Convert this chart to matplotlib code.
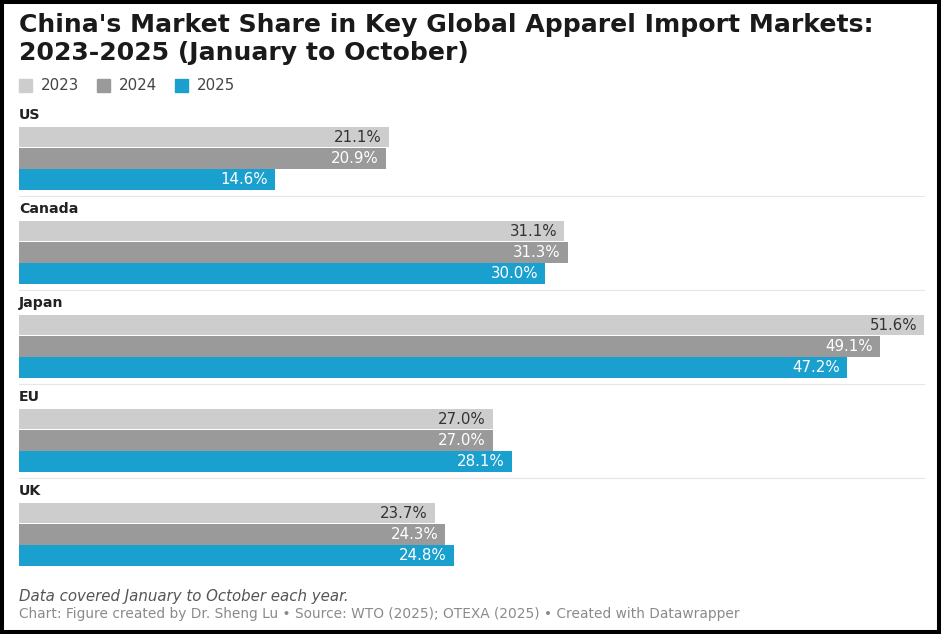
import matplotlib.pyplot as plt
from matplotlib.patches import Rectangle

# data
markets = ['US', 'Canada', 'Japan', 'EU', 'UK']
years = ['2023', '2024', '2025']
share_2023 = [21.1, 31.1, 51.6, 27.0, 23.7]
share_2024 = [20.9, 31.3, 49.1, 27.0, 24.3]
share_2025 = [14.6, 30.0, 47.2, 28.1, 24.8]

colors = ['#cdcdcd', '#9a9a9a', '#1aa0cf']
label_colors = ['#333333', 'white', 'white']

W, H = 941, 634
px_per_pct = 17.54
left_px = 19

plt.rcParams['font.family'] = 'DejaVu Sans'

fig = plt.figure(figsize=(W / 100, H / 100), dpi=100)
ax = fig.add_axes([0, 0, 1, 1])
# x in percent, y in pixels from top
ax.set_xlim(-left_px / px_per_pct, (W - left_px) / px_per_pct)
ax.set_ylim(H, 0)
ax.axis('off')

group_top = 115
group_step = 94
bar_h = 21.3

series = [share_2023, share_2024, share_2025]
for g, name in enumerate(markets):
    y0 = group_top + g * group_step
    ax.text(0, y0, name, fontsize=10.2, fontweight='bold', color='#222222',
            va='center', ha='left')
    for k in range(3):
        yc = y0 + 22 + k * bar_h
        v = series[k][g]
        ax.barh(yc, v, height=bar_h - 0.8, left=0, color=colors[k])
        ax.text(v - 0.4, yc, f'{v:.1f}%', fontsize=10.8, color=label_colors[k],
                va='center', ha='right')
    if g < len(markets) - 1:
        ax.plot([0, 51.6], [y0 + 81, y0 + 81], color='#e6e6e6', lw=0.8)

# title
fig.text(left_px / W, 1 - 25 / H, "China's Market Share in Key Global Apparel Import Markets:",
         fontsize=18.1, fontweight='bold', color='#1a1a1a', va='center')
fig.text(left_px / W, 1 - 53 / H, "2023-2025 (January to October)",
         fontsize=18.1, fontweight='bold', color='#1a1a1a', va='center')

# legend
leg_x = [19, 97, 175]
for k, yr in enumerate(years):
    fig.patches.append(Rectangle((leg_x[k] / W, 1 - 92 / H), 13 / W, 13 / H,
                                 transform=fig.transFigure, color=colors[k]))
    fig.text((leg_x[k] + 22) / W, 1 - 85.5 / H, yr, fontsize=10.8, color='#444444',
             va='center')

# notes
fig.text(left_px / W, 1 - 596 / H, 'Data covered January to October each year.',
         fontsize=10.8, style='italic', color='#555555', va='center')
fig.text(left_px / W, 1 - 614 / H,
         'Chart: Figure created by Dr. Sheng Lu \u2022 Source: WTO (2025); OTEXA (2025) \u2022 Created with Datawrapper',
         fontsize=9.9, color='#8a8a8a', va='center')

# black frame
fig.patches.append(Rectangle((0, 0), 1, 1, transform=fig.transFigure, fill=False,
                             edgecolor='black', lw=5.8))

fig.savefig('out.png', dpi=100)
